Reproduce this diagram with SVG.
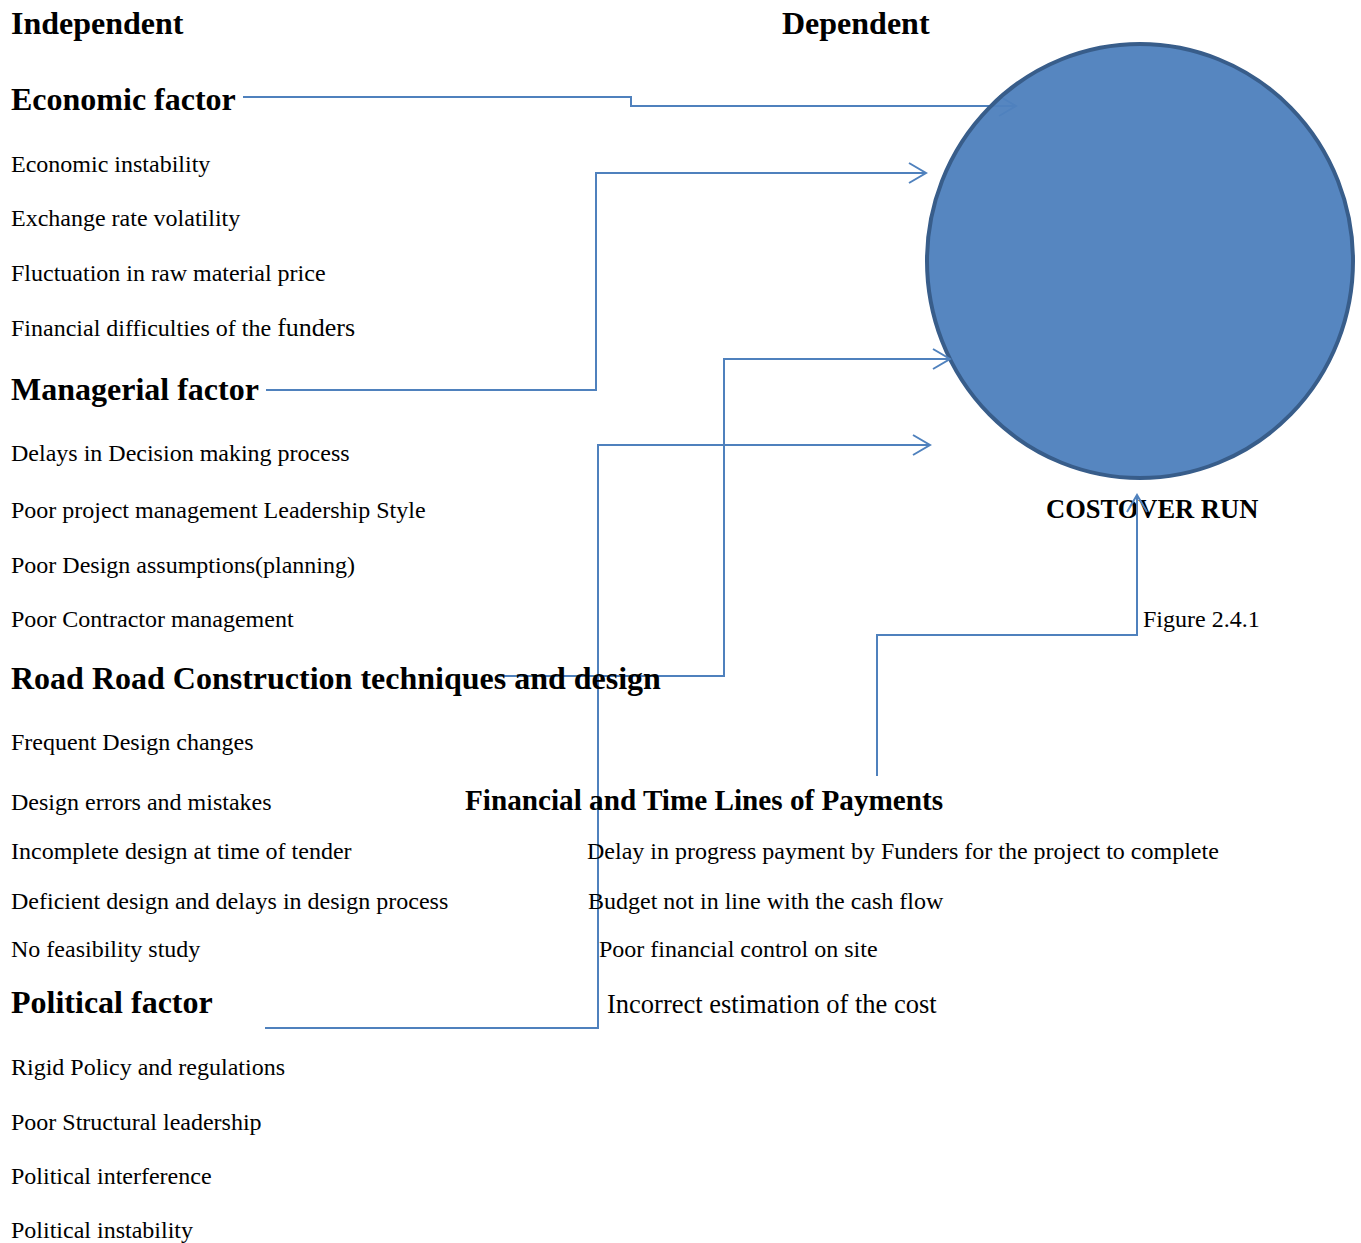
<svg xmlns="http://www.w3.org/2000/svg" width="1361" height="1243" viewBox="0 0 1361 1243">
<style>
text{font-family:"Liberation Serif","Times New Roman",serif;fill:#000}
.h{font-weight:bold;font-size:32px}
.t{font-size:24px}
.c{fill:none;stroke:#4f81bd;stroke-width:2}
</style>
<defs>
<marker id="arr" markerUnits="userSpaceOnUse" markerWidth="24" markerHeight="24" viewBox="-20 -12 24 24" refX="0" refY="0" orient="auto">
<path d="M-17,-10 L0,0 L-17,10" fill="none" stroke="#4f81bd" stroke-width="2"/>
</marker>
</defs>
<rect width="1361" height="1243" fill="#fff"/>
<g id="connectors">
<path class="c" d="M243,97 H631 V106 H1016" marker-end="url(#arr)"/>
</g>
<g id="costover">
<ellipse cx="1140" cy="261" rx="213" ry="217" fill="#4f81bd" stroke="#385d8a" stroke-width="4" fill-opacity="0.96"/>
<text x="1046" y="518" style="font-weight:bold;font-size:26.5px">COSTOVER RUN</text>
</g>
<g id="connectors2">
<path class="c" d="M266,390 H596 V173 H926" marker-end="url(#arr)"/>
<path class="c" d="M497,676 H724 V359 H950" marker-end="url(#arr)"/>
<path class="c" d="M265,1028 H598 V445 H930" marker-end="url(#arr)"/>
<path class="c" d="M877,776 V635 H1137 V495" marker-end="url(#arr)"/>
</g>
<g id="headers">
<text class="h" x="11" y="34">Independent</text>
<text class="h" x="782" y="34">Dependent</text>
</g>
<g id="economic">
<text class="h" x="11" y="110">Economic factor</text>
<text class="t" x="11" y="172">Economic instability</text>
<text class="t" x="11" y="226">Exchange rate volatility</text>
<text class="t" x="11" y="281">Fluctuation in raw material price</text>
<text class="t" x="11" y="336">Financial difficulties of the <tspan style="font-size:26px">funders</tspan></text>
</g>
<g id="managerial">
<text class="h" x="11" y="400">Managerial factor</text>
<text class="t" x="11" y="461">Delays in Decision making process</text>
<text class="t" x="11" y="518">Poor project management Leadership Style</text>
<text class="t" x="11" y="573">Poor Design assumptions(planning)</text>
<text class="t" x="11" y="627">Poor Contractor management</text>
</g>
<g id="road">
<text class="h" x="11" y="689">Road Road Construction techniques and design</text>
<text class="t" x="11" y="750">Frequent Design changes</text>
<text class="t" x="11" y="810">Design errors and mistakes</text>
<text class="t" x="11" y="859">Incomplete design at time of tender</text>
<text class="t" x="11" y="909">Deficient design and delays in design process</text>
<text class="t" x="11" y="957">No feasibility study</text>
</g>
<g id="political">
<text class="h" x="11" y="1013">Political factor</text>
<text class="t" x="11" y="1075">Rigid Policy and regulations</text>
<text class="t" x="11" y="1130">Poor Structural leadership</text>
<text class="t" x="11" y="1184">Political interference</text>
<text class="t" x="11" y="1238">Political instability</text>
</g>
<g id="financial">
<text x="465" y="810" style="font-weight:bold;font-size:29.2px">Financial and Time Lines of Payments</text>
<text class="t" x="587" y="859">Delay in progress payment by Funders for the project to complete</text>
<text class="t" x="588" y="909">Budget not in line with the cash flow</text>
<text class="t" x="599" y="957">Poor financial control on site</text>
<text x="607" y="1013" style="font-size:26.5px">Incorrect estimation of the cost</text>
</g>
<g id="figure">
<text class="t" x="1143" y="627">Figure 2.4.1</text>
</g>
</svg>
